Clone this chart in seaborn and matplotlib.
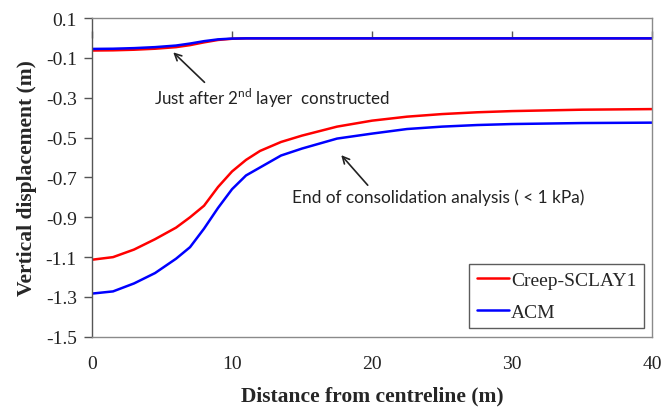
import matplotlib
matplotlib.use("Agg")
import matplotlib.pyplot as plt
import seaborn as sns
import pandas as pd

# ---- data ----
distance = [0, 1.5, 3, 4.5, 6, 7, 8, 9, 10, 11, 12, 13.5, 15, 17.5, 20, 22.5, 25, 27.5, 30, 35, 40]
creep_end = [-1.113, -1.100, -1.062, -1.010, -0.952, -0.900, -0.842, -0.748, -0.670, -0.612, -0.567,
             -0.522, -0.490, -0.445, -0.415, -0.395, -0.382, -0.373, -0.367, -0.360, -0.357]
acm_end = [-1.283, -1.272, -1.232, -1.180, -1.108, -1.050, -0.957, -0.853, -0.759, -0.690, -0.650,
           -0.590, -0.555, -0.505, -0.480, -0.457, -0.445, -0.437, -0.432, -0.427, -0.425]
creep_early = [-0.063, -0.062, -0.059, -0.054, -0.046, -0.036, -0.022, -0.010, -0.004, -0.002, -0.002,
               -0.002, -0.002, -0.002, -0.002, -0.002, -0.002, -0.002, -0.002, -0.002, -0.002]
acm_early = [-0.055, -0.054, -0.051, -0.046, -0.038, -0.028, -0.016, -0.007, -0.003, -0.002, -0.002,
             -0.002, -0.002, -0.002, -0.002, -0.002, -0.002, -0.002, -0.002, -0.002, -0.002]
series_names = ["Creep-SCLAY1", "ACM"]
colors = {"Creep-SCLAY1": "#ff0000", "ACM": "#0000ff"}
y_ticks = [0.1, -0.1, -0.3, -0.5, -0.7, -0.9, -1.1, -1.3, -1.5]
x_ticks = [0, 10, 20, 30, 40]

df_end = pd.DataFrame({
    "x": distance * 2,
    "y": creep_end + acm_end,
    "model": [series_names[0]] * len(distance) + [series_names[1]] * len(distance),
})
df_early = pd.DataFrame({
    "x": distance * 2,
    "y": creep_early + acm_early,
    "model": [series_names[0]] * len(distance) + [series_names[1]] * len(distance),
})

sns.set_style("white")
plt.rcParams["font.family"] = ["Liberation Serif", "DejaVu Serif"]

fig = plt.figure(figsize=(6.64, 4.14), dpi=100)
ax = fig.add_axes([0.1386, 0.184, 0.8434, 0.770])

sns.lineplot(data=df_end, x="x", y="y", hue="model", palette=colors, linewidth=1.8,
             ax=ax, hue_order=series_names, sort=False)
sns.lineplot(data=df_early, x="x", y="y", hue="model", palette=colors, linewidth=1.8,
             ax=ax, hue_order=series_names, legend=False, sort=False)

ax.set_xlim(0, 40)
ax.set_ylim(-1.5, 0.1)
ax.set_yticks(y_ticks)
ax.set_yticklabels([f"{v:.1f}" for v in y_ticks])
ax.set_xticks(x_ticks)
ax.set_xticklabels([str(v) for v in x_ticks])
ax.tick_params(axis="y", direction="out", length=6, width=1, color="#555555",
               labelsize=14, labelcolor="#222222", pad=5, left=True)
ax.tick_params(axis="x", length=0, labelsize=14, labelcolor="#222222", pad=13)

for name, sp in ax.spines.items():
    sp.set_visible(True)
    sp.set_color("#8a8a8a")
    sp.set_linewidth(1.0)
ax.spines["left"].set_color("#555555")

# horizontal axis line at y = 0 with its ticks
sec = ax.secondary_xaxis((0 - (-1.5)) / 1.6)
sec.set_xticks(x_ticks)
sec.tick_params(axis="x", direction="out", length=5, width=1, color="#555555", labelbottom=False,
                labeltop=False)
sec.spines["bottom"].set_color("#555555")
sec.spines["bottom"].set_linewidth(1.0)
for k in ["top", "left", "right"]:
    sec.spines[k].set_visible(False)

ax.set_xlabel("Distance from centreline (m)", fontsize=15.5, fontweight="bold", labelpad=10)
ax.set_ylabel("Vertical displacement (m)", fontsize=15.5, fontweight="bold", labelpad=6)

ann_font = ["Lato", "DejaVu Sans"]
ax.annotate("Just after 2$^{\\mathregular{nd}}$ layer  constructed", xy=(5.8, -0.072), xytext=(4.4, -0.297),
            fontsize=12.2, family=ann_font, color="#222222", va="center", ha="left",
            arrowprops=dict(arrowstyle="->", color="#222222", lw=1.2, shrinkA=0, shrinkB=0,
                            relpos=(0.23, 1.0)))
ax.annotate("End of consolidation analysis ( < 1 kPa)", xy=(17.8, -0.588), xytext=(14.26, -0.797),
            fontsize=12.4, family=ann_font, color="#222222", va="center", ha="left",
            arrowprops=dict(arrowstyle="->", color="#222222", lw=1.2, shrinkA=0, shrinkB=0,
                            relpos=(0.27, 1.0)))

leg = ax.legend(loc="lower right", bbox_to_anchor=(0.9857, 0.028), borderaxespad=0,
                fontsize=14, frameon=True, fancybox=False, handlelength=1.65, handletextpad=0.13,
                borderpad=0.38, labelspacing=0.7, title=None)
leg.get_frame().set_edgecolor("#333333")
leg.get_frame().set_linewidth(1.0)
for line in leg.get_lines():
    line.set_linewidth(1.8)

fig.savefig("out.png", dpi=100)
